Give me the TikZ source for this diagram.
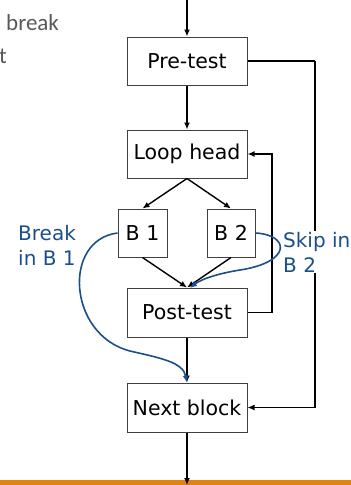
\documentclass[tikz,border=0pt]{standalone}
\usepackage{fontspec}
\setmainfont{DejaVu Sans}
\newfontfamily\slidefont{Carlito}
\usetikzlibrary{arrows.meta}
\definecolor{lnblue}{HTML}{1A4F8B}
\definecolor{barorange}{HTML}{E2820F}
\definecolor{slidegray}{HTML}{595959}
\definecolor{boxgray}{HTML}{404040}
\tikzset{
  blk/.style={draw=boxgray, line width=1pt, fill=white, inner sep=0pt, minimum height=48pt,
    font=\fontsize{20.5}{24}\selectfont, text=black},
  wide/.style={blk, minimum width=120pt},
  narrow/.style={blk, minimum width=48pt},
  flow/.style={line width=1.4pt, -{Latex[length=7pt,width=6pt]}},
  plain/.style={line width=1.4pt},
  jump/.style={line width=1.6pt, draw=lnblue, -{Latex[length=7pt,width=6pt]}},
  note/.style={text=lnblue, font=\fontsize{20}{24.5}\selectfont, align=left, inner sep=1pt},
  slide/.style={text=slidegray, font=\slidefont\fontsize{23}{27}\selectfont, inner sep=0pt, anchor=base west}
}
\begin{document}
\begin{tikzpicture}[x=1pt,y=-1pt]
\useasboundingbox (0,0) rectangle (351,485);
% slide fragments
\node[slide] (s1) at (6,30) {break};
\node[slide] (s2) at (-1,63) {t};
% orange bar
\fill[barorange] (0,480) rectangle (351,485);
% nodes
\node[wide] (pre) at (187,61) {Pre-test};
\node[wide] (loop) at (187,154) {Loop head};
\node[narrow, minimum width=49pt] (b1) at (142.5,233) {B 1};
\node[narrow] (b2) at (231,233) {B 2};
\node[wide, minimum height=49pt] (post) at (187,312.5) {Post-test};
\node[wide, minimum height=49pt] (next) at (187,407.5) {Next block};
% coordinates
\coordinate (topin) at (187,0);
\coordinate (botout) at (187,485);
\coordinate (pr) at (315,61);
\coordinate (nr) at (315,407.5);
\coordinate (postr) at (272,312.5);
\coordinate (loopr) at (272,154);
% main flow
\draw[flow] (topin) -- (pre.north);
\draw[flow] (pre.south) -- (loop.north);
\draw[flow] (loop.south) -- (b1.north);
\draw[flow] (loop.south) -- (b2.north);
\draw[flow] (b1.south) -- (post.north);
\draw[flow] (b2.south) -- (post.north);
\draw[flow] (post.south) -- (next.north);
\draw[flow] (next.south) -- (botout);
\draw[plain] (pre.east) -- (pr);
\draw[flow] (pr) -- (nr) -- (next.east);
\draw[plain] (post.east) -- (postr);
\draw[flow] (postr) -- (loopr) -- (loop.east);
% blue jumps
\coordinate (bk) at (130,351);
\draw[jump] (b1.west) .. controls (62,240) and (68,335) .. (bk)
  .. controls (160,358) and (183,362) .. (next.north);
\coordinate (sk) at (240,270);
\coordinate (postin) at (190,288);
\draw[jump] (b2.east) .. controls (290,235) and (292,262) .. (sk)
  .. controls (215,274) and (200,280) .. (postin);
% labels
\node[note, anchor=base west] (lbreak) at (17,265) {Break\\in B 1};
\node[note, anchor=base west, fill=white] (lskip) at (282,272) {Skip in\\B 2};
\end{tikzpicture}
\end{document}
